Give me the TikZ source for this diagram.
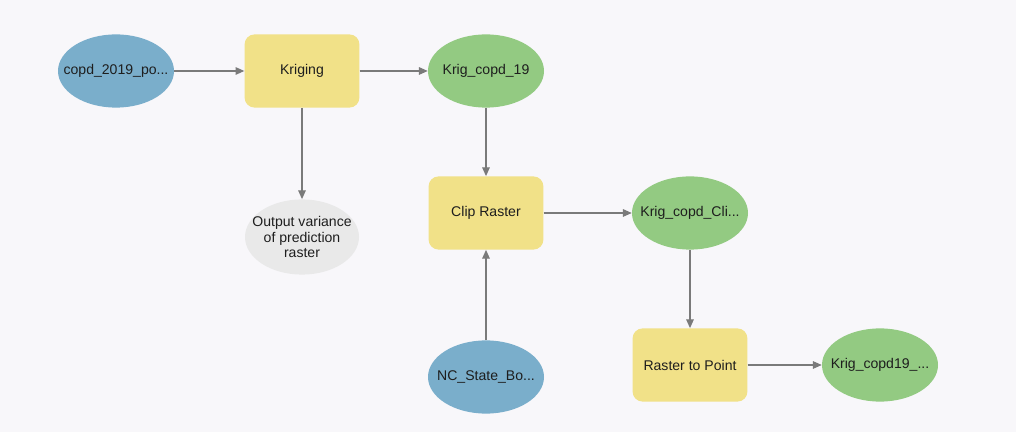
\documentclass[tikz,border=0pt]{standalone}
\usepackage{fontspec}
\setmainfont{Liberation Sans}
\usetikzlibrary{shapes.geometric, arrows.meta, positioning}
\usepackage{xcolor}
\definecolor{ModelBlue}{HTML}{7AAECB}
\definecolor{ModelYellow}{HTML}{F1E188}
\definecolor{ModelGreen}{HTML}{93CA82}
\definecolor{ModelGrey}{HTML}{E9E9E9}
\definecolor{ModelLine}{HTML}{7A7A7A}
\definecolor{ModelBack}{HTML}{F8F7FA}
\definecolor{ModelText}{HTML}{1E1E1E}
\newcommand{\elltext}[1]{\makebox[0pt]{#1}}
\tikzset{
    % Shared look of all elements
    element/.style={
        inner sep=0pt,
        text=ModelText,
        font=\fontsize{10}{11}\selectfont,
        align=center
    },
    % Data elements - ellipses
    inputdata/.style={
        element,
        ellipse,
        fill=ModelBlue,
        minimum width=2.9cm,
        minimum height=1.83cm
    },
    outputdata/.style={
        element,
        ellipse,
        fill=ModelGreen,
        minimum width=2.9cm,
        minimum height=1.83cm
    },
    extradata/.style={
        element,
        ellipse,
        fill=ModelGrey,
        minimum width=2.85cm,
        minimum height=1.88cm
    },
    % Tools - rounded boxes
    tool/.style={
        element,
        rectangle,
        rounded corners=0.25cm,
        fill=ModelYellow,
        minimum width=2.87cm,
        minimum height=1.83cm
    },
    % Connectors
    flow/.style={
        -{Triangle[length=2.2mm, width=1.9mm]},
        line width=0.8pt,
        draw=ModelLine
    }
}
\begin{document}
\begin{tikzpicture}
    \fill[ModelBack] (0,0) rectangle (25.4,10.8);
    \useasboundingbox (0,0) rectangle (25.4,10.8);

    \node[inputdata] (copd) at (2.9,9.025) {\elltext{copd\_2019\_po...}};
    \node[tool] (kriging) at (7.55,9.025) {Kriging};
    \node[outputdata] (krig) at (12.15,9.025) {\elltext{Krig\_copd\_19}};
    \node[extradata] (variance) at (7.55,4.875)
        {\elltext{Output variance}\\\elltext{of prediction}\\\elltext{raster}};

    \node[tool] (clip) at (12.15,5.475) {Clip Raster};
    \node[outputdata] (clipped) at (17.25,5.475) {\elltext{Krig\_copd\_Cli...}};
    \node[inputdata] (state) at (12.15,1.375) {\elltext{NC\_State\_Bo...}};

    \node[tool] (topoint) at (17.25,1.675) {Raster to Point};
    \node[outputdata] (points) at (22.0,1.675) {\elltext{Krig\_copd19\_...}};

    \draw[flow] (copd) -- (kriging);
    \draw[flow] (kriging) -- (krig);
    \draw[flow] (kriging) -- (variance);
    \draw[flow] (krig) -- (clip);
    \draw[flow] (state) -- (clip);
    \draw[flow] (clip) -- (clipped);
    \draw[flow] (clipped) -- (topoint);
    \draw[flow] (topoint) -- (points);
\end{tikzpicture}
\end{document}
